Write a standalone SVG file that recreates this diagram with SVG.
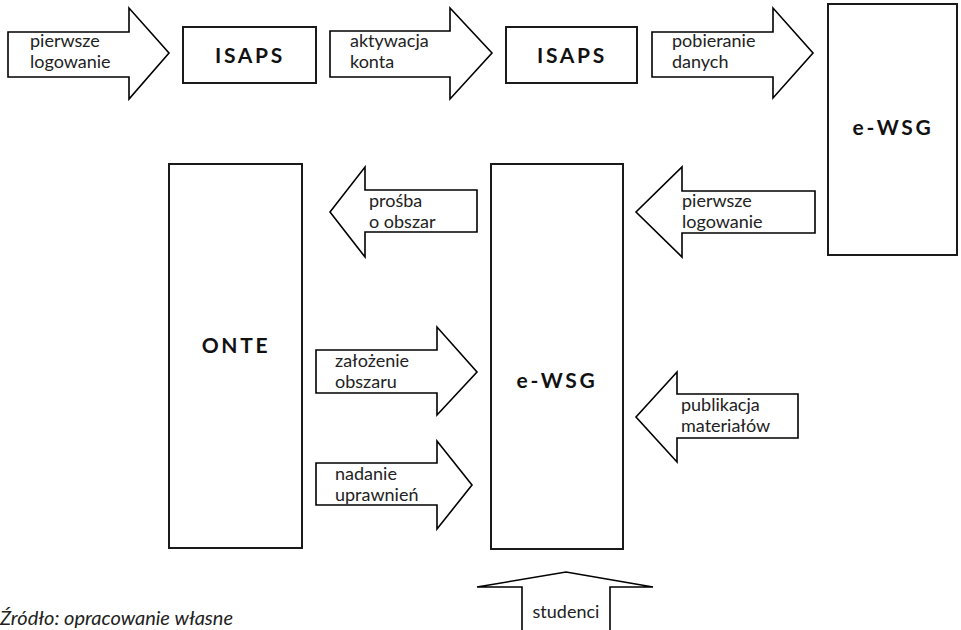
<svg xmlns="http://www.w3.org/2000/svg" width="961" height="630" viewBox="0 0 961 630">
<style>
.box{fill:#fff;stroke:#1a1a1a;stroke-width:2}
.arr{fill:#fff;stroke:#000;stroke-width:1.6;stroke-linejoin:miter}
.lbl{font-family:Lato,"Liberation Sans",sans-serif;font-size:18px;fill:#222}
.ttl{font-family:Lato,"Liberation Sans",sans-serif;font-size:21px;font-weight:bold;letter-spacing:2.7px;fill:#111;text-anchor:middle}
.src{font-family:Lato,"Liberation Sans",sans-serif;font-size:20px;font-style:italic;fill:#222}
</style>
<rect width="961" height="630" fill="#fff"/>
<g id="connectors">
<g id="a1"><polygon class="arr" points="8,32 129,32 129,8 169,53 129,99 129,77 8,77"/><text class="lbl" x="30" y="47">pierwsze</text><text class="lbl" x="30" y="68">logowanie</text></g>
<g id="a2"><polygon class="arr" points="330,31 450,31 450,8 492,53 450,99 450,77 330,77"/><text class="lbl" x="350" y="47">aktywacja</text><text class="lbl" x="350" y="68">konta</text></g>
<g id="a3"><polygon class="arr" points="652,32 773,32 773,8 813,53 773,98 773,77 652,77"/><text class="lbl" x="672" y="47">pobieranie</text><text class="lbl" x="672" y="68">danych</text></g>
<g id="a4"><polygon class="arr" points="815,191 682,191 682,167 636,212 682,257 682,233 815,233"/><text class="lbl" x="682" y="207">pierwsze</text><text class="lbl" x="682" y="228">logowanie</text></g>
<g id="a5"><polygon class="arr" points="477,190 365,190 365,167 330,212 365,257 365,232 477,232"/><text class="lbl" x="369" y="207">prośba</text><text class="lbl" x="369" y="228">o obszar</text></g>
<g id="a6"><polygon class="arr" points="316,350 437,350 437,327 477,372 437,415 437,393 316,393"/><text class="lbl" x="335" y="367">założenie</text><text class="lbl" x="335" y="388">obszaru</text></g>
<g id="a7"><polygon class="arr" points="316,463 437,463 437,441 472,485 437,529 437,505 316,505"/><text class="lbl" x="335" y="480">nadanie</text><text class="lbl" x="335" y="501">uprawnień</text></g>
<g id="a8"><polygon class="arr" points="798,394 677,394 677,372 636,417 677,462 677,438 798,438"/><text class="lbl" x="681" y="411">publikacja</text><text class="lbl" x="681" y="432">materiałów</text></g>
<g id="a9"><polygon class="arr" points="522,640 522,587 477,587 566,572 653,587 610,587 610,640"/><text class="lbl" x="566" y="618" text-anchor="middle">studenci</text></g>
</g>
<g id="isaps1"><rect class="box" x="183" y="27" width="133" height="56"/><text class="ttl" x="250" y="63">ISAPS</text></g>
<g id="isaps2"><rect class="box" x="506" y="27" width="131" height="56"/><text class="ttl" x="572" y="63">ISAPS</text></g>
<g id="ewsg1"><rect class="box" x="828" y="4" width="129" height="251"/><text class="ttl" x="893" y="135">e-WSG</text></g>
<g id="onte"><rect class="box" x="169" y="164" width="133" height="384"/><text class="ttl" x="236" y="353">ONTE</text></g>
<g id="ewsg2"><rect class="box" x="491" y="164" width="132" height="385"/><text class="ttl" x="557" y="388">e-WSG</text></g>
<text class="src" x="0" y="625">Źródło: opracowanie własne</text>
</svg>
